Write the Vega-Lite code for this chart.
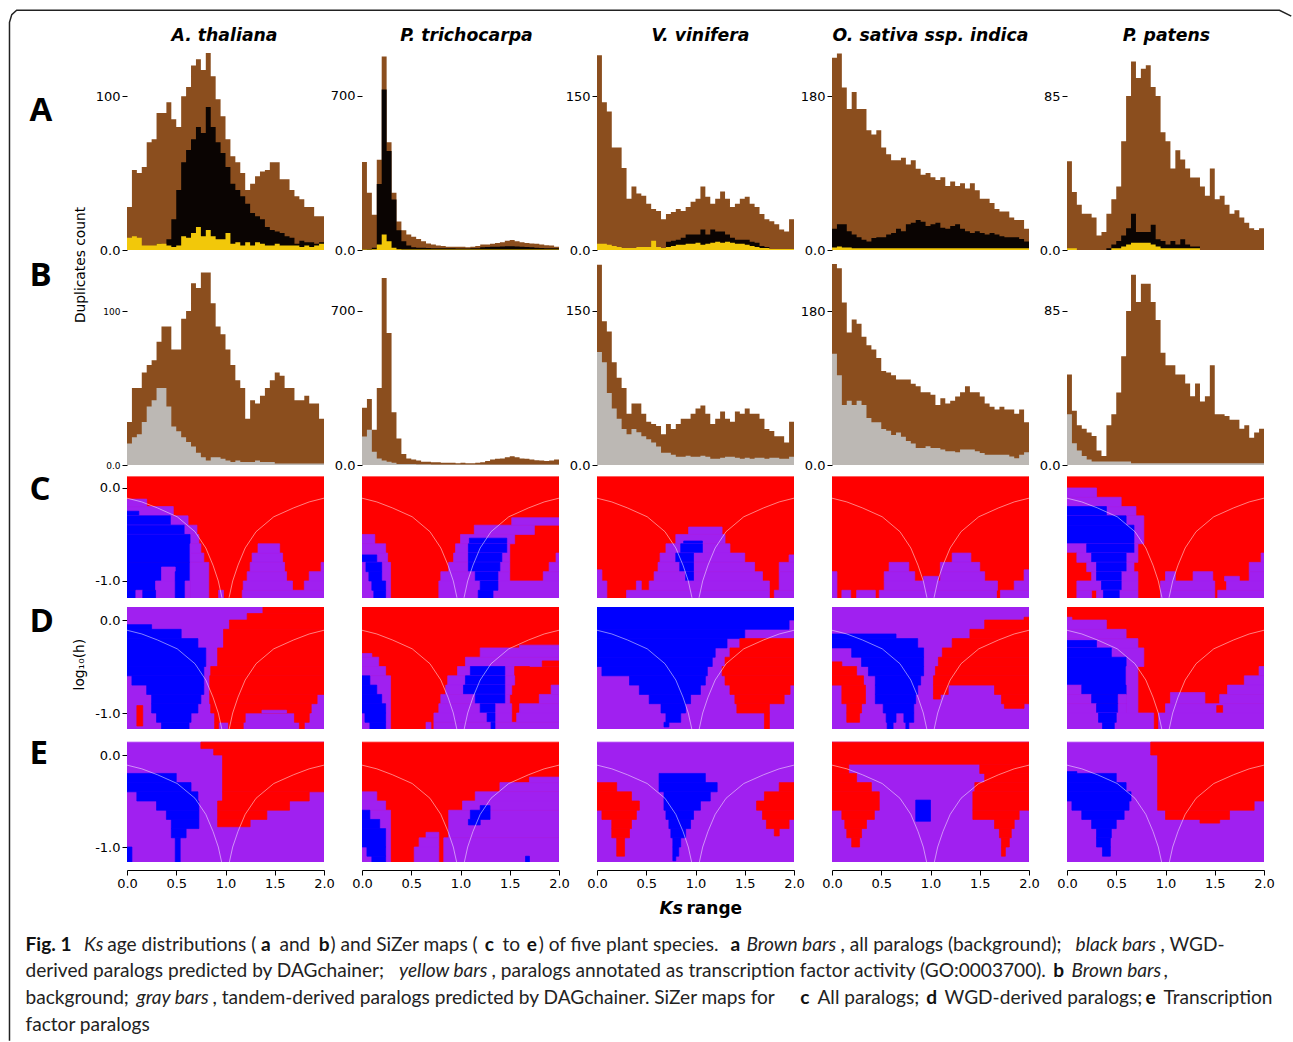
{"$schema":"https://vega.github.io/schema/vega-lite/v6.json","background":"white","autosize":{"type":"pad"},"padding":{"left":6,"top":7,"right":0,"bottom":0},
"config":{"view":{"stroke":null},"legend":{"disable":true},"range":{"category":["#a020f0","#0000ff","#ff0000"]},"scale":{"zero":false},"axis":{"labels":false,"ticks":false,"grid":false,"domain":false,"titleOpacity":0,"titleFontSize":1,"titlePadding":0,"tickColor":"#000","tickSize":5,"labelFont":"DejaVu Sans","labelFontSize":13,"labelColor":"#000","labelPadding":2,"labelFlush":false,"labelOverlap":false,"domainColor":"#000"}},
"columns":5,"spacing":{"row":9,"column":38},"bounds":"flush",
"datasets":{
"curve":[{"s":"l","x":0,"h":-0.11},{"s":"l","x":0.15,"h":-0.15},{"s":"l","x":0.31,"h":-0.215},{"s":"l","x":0.51,"h":-0.31},{"s":"l","x":0.69,"h":-0.47},{"s":"l","x":0.8,"h":-0.645},{"s":"l","x":0.873,"h":-0.83},{"s":"l","x":0.927,"h":-1},{"s":"l","x":0.964,"h":-1.18},{"s":"r","x":1.036,"h":-1.18},{"s":"r","x":1.073,"h":-1},{"s":"r","x":1.127,"h":-0.83},{"s":"r","x":1.2,"h":-0.645},{"s":"r","x":1.31,"h":-0.47},{"s":"r","x":1.49,"h":-0.31},{"s":"r","x":1.69,"h":-0.215},{"s":"r","x":1.85,"h":-0.15},{"s":"r","x":2,"h":-0.11}],
"frame":[{"i":1,"x":-1.193,"y":-514},{"i":2,"x":-1.193,"y":148},{"i":3,"x":-1.17,"y":153},{"i":4,"x":-1.12,"y":155.8},{"i":5,"x":11.7,"y":155.8},{"i":6,"x":11.82,"y":152}],
"cap":[{"x":-0.2,"y":-455.8,"t":"age distributions ("},{"x":1.548,"y":-455.8,"t":"and"},{"x":2.066,"y":-455.8,"t":") and SiZer maps ("},{"x":3.811,"y":-455.8,"t":"to"},{"x":4.18,"y":-455.8,"t":") of five plant species."},{"x":7.244,"y":-455.8,"t":", all paralogs (background);"},{"x":10.493,"y":-455.8,"t":", WGD-"},{"x":-1.03,"y":-472.7,"t":"derived paralogs predicted by DAGchainer;"},{"x":3.701,"y":-472.7,"t":", paralogs annotated as transcription factor activity (GO:0003700)."},{"x":10.523,"y":-472.7,"t":","},{"x":-1.03,"y":-490.3,"t":"background;"},{"x":0.868,"y":-490.3,"t":", tandem-derived paralogs predicted by DAGchainer. SiZer maps for"},{"x":7.01,"y":-490.3,"t":"All paralogs;"},{"x":8.3,"y":-490.3,"t":"WGD-derived paralogs;"},{"x":10.523,"y":-490.3,"t":"Transcription"},{"x":-1.03,"y":-507.8,"t":"factor paralogs"}],
"capb":[{"x":-1.03,"y":-455.8,"t":"Fig. 1"},{"x":1.361,"y":-455.8,"t":"a"},{"x":1.946,"y":-455.8,"t":"b"},{"x":3.632,"y":-455.8,"t":"c"},{"x":4.059,"y":-455.8,"t":"e"},{"x":6.127,"y":-455.8,"t":"a"},{"x":9.403,"y":-472.7,"t":"b"},{"x":6.836,"y":-490.3,"t":"c"},{"x":8.113,"y":-490.3,"t":"d"},{"x":10.34,"y":-490.3,"t":"e"}],
"capi":[{"x":-0.437,"y":-455.8,"t":"Ks"},{"x":6.289,"y":-455.8,"t":"Brown bars"},{"x":9.63,"y":-455.8,"t":"black bars"},{"x":2.762,"y":-472.7,"t":"yellow bars"},{"x":9.589,"y":-472.7,"t":"Brown bars"},{"x":0.096,"y":-490.3,"t":"gray bars"}],
"ttl":[{"x":0.99,"y":136,"t":"A. thaliana"},{"x":3.447,"y":136,"t":"P. trichocarpa"},{"x":5.822,"y":136,"t":"V. vinifera"},{"x":8.157,"y":136,"t":"O. sativa ssp. indica"},{"x":10.553,"y":136,"t":"P. patens"}],
"let":[{"x":-0.99,"y":83.8,"t":"A"},{"x":-0.99,"y":-23.4,"t":"B"},{"x":-0.99,"y":-162.3,"t":"C"},{"x":-0.99,"y":-248,"t":"D"},{"x":-0.99,"y":-334.4,"t":"E"}],
"rot":[{"x":-0.462,"y":-9.7,"t":"Duplicates count"},{"x":-0.482,"y":-269.5,"t":"log₁₀(h)"}],
"ksi":[{"x":5.406,"y":-431.8,"t":"Ks"}],
"ksb":[{"x":5.68,"y":-431.8,"t":"range"}],
"A1":[{"x":0,"b":28,"k":0,"g":8},{"x":0.05,"b":52,"k":0,"g":9},{"x":0.1,"b":50,"k":0,"g":8},{"x":0.15,"b":54,"k":0,"g":3},{"x":0.2,"b":70,"k":0,"g":3},{"x":0.25,"b":72,"k":1,"g":3},{"x":0.3,"b":89,"k":4,"g":4},{"x":0.35,"b":89,"k":3,"g":4},{"x":0.4,"b":96,"k":7,"g":3},{"x":0.45,"b":85,"k":20,"g":2},{"x":0.5,"b":80,"k":39,"g":3},{"x":0.55,"b":100,"k":57,"g":9},{"x":0.6,"b":106,"k":65,"g":8},{"x":0.65,"b":120,"k":72,"g":11},{"x":0.7,"b":124,"k":80,"g":15},{"x":0.75,"b":117,"k":76,"g":9},{"x":0.8,"b":128,"k":93,"g":13},{"x":0.85,"b":113,"k":80,"g":9},{"x":0.9,"b":98,"k":70,"g":7},{"x":0.95,"b":87,"k":63,"g":7},{"x":1,"b":72,"k":54,"g":11},{"x":1.05,"b":61,"k":43,"g":4},{"x":1.1,"b":57,"k":39,"g":5},{"x":1.15,"b":50,"k":35,"g":3},{"x":1.2,"b":39,"k":30,"g":5},{"x":1.25,"b":43,"k":24,"g":3},{"x":1.3,"b":48,"k":22,"g":5},{"x":1.35,"b":51,"k":20,"g":4},{"x":1.4,"b":52,"k":15,"g":3},{"x":1.45,"b":57,"k":13,"g":3},{"x":1.5,"b":57,"k":12,"g":4},{"x":1.55,"b":46,"k":11,"g":3},{"x":1.6,"b":46,"k":9,"g":3},{"x":1.65,"b":39,"k":8,"g":3},{"x":1.7,"b":35,"k":4,"g":3},{"x":1.75,"b":33,"k":6,"g":2},{"x":1.8,"b":28,"k":5,"g":3},{"x":1.85,"b":28,"k":5,"g":2},{"x":1.9,"b":22,"k":4,"g":3},{"x":1.95,"b":22,"k":5,"g":4},{"x":2,"b":22,"k":5,"g":4}],
"A2":[{"x":0,"b":400,"k":2,"g":2},{"x":0.05,"b":260,"k":5,"g":2},{"x":0.1,"b":160,"k":10,"g":3},{"x":0.15,"b":410,"k":300,"g":25},{"x":0.2,"b":880,"k":730,"g":70},{"x":0.25,"b":490,"k":450,"g":40},{"x":0.3,"b":260,"k":230,"g":10},{"x":0.35,"b":130,"k":90,"g":3},{"x":0.4,"b":90,"k":40,"g":2},{"x":0.45,"b":70,"k":20,"g":2},{"x":0.5,"b":60,"k":12,"g":2},{"x":0.55,"b":50,"k":10,"g":2},{"x":0.6,"b":40,"k":10,"g":2},{"x":0.65,"b":30,"k":9,"g":2},{"x":0.7,"b":25,"k":8,"g":2},{"x":0.75,"b":20,"k":8,"g":2},{"x":0.8,"b":18,"k":8,"g":2},{"x":0.85,"b":15,"k":8,"g":2},{"x":0.9,"b":15,"k":8,"g":2},{"x":0.95,"b":15,"k":7,"g":2},{"x":1,"b":15,"k":7,"g":2},{"x":1.05,"b":12,"k":7,"g":2},{"x":1.1,"b":15,"k":8,"g":2},{"x":1.15,"b":18,"k":8,"g":2},{"x":1.2,"b":25,"k":12,"g":2},{"x":1.25,"b":25,"k":14,"g":2},{"x":1.3,"b":28,"k":15,"g":2},{"x":1.35,"b":32,"k":15,"g":2},{"x":1.4,"b":35,"k":16,"g":2},{"x":1.45,"b":42,"k":17,"g":2},{"x":1.5,"b":45,"k":17,"g":2},{"x":1.55,"b":40,"k":16,"g":2},{"x":1.6,"b":35,"k":15,"g":2},{"x":1.65,"b":32,"k":14,"g":2},{"x":1.7,"b":30,"k":12,"g":2},{"x":1.75,"b":28,"k":10,"g":2},{"x":1.8,"b":25,"k":9,"g":2},{"x":1.85,"b":22,"k":8,"g":2},{"x":1.9,"b":20,"k":8,"g":2},{"x":1.95,"b":15,"k":8,"g":2},{"x":2,"b":15,"k":8,"g":2}],
"A3":[{"x":0,"b":190,"k":0,"g":6},{"x":0.05,"b":144,"k":0,"g":6},{"x":0.1,"b":135,"k":0,"g":5},{"x":0.15,"b":100,"k":0,"g":4},{"x":0.2,"b":100,"k":0,"g":3},{"x":0.25,"b":80,"k":0,"g":2},{"x":0.3,"b":50,"k":0,"g":2},{"x":0.35,"b":62,"k":0,"g":2},{"x":0.4,"b":55,"k":0,"g":3},{"x":0.45,"b":53,"k":0,"g":3},{"x":0.5,"b":45,"k":1,"g":3},{"x":0.55,"b":40,"k":1,"g":9},{"x":0.6,"b":38,"k":1,"g":3},{"x":0.65,"b":30,"k":1,"g":2},{"x":0.7,"b":35,"k":8,"g":3},{"x":0.75,"b":37,"k":9,"g":4},{"x":0.8,"b":40,"k":10,"g":5},{"x":0.85,"b":38,"k":12,"g":5},{"x":0.9,"b":42,"k":15,"g":6},{"x":0.95,"b":47,"k":15,"g":6},{"x":1,"b":50,"k":15,"g":7},{"x":1.05,"b":62,"k":20,"g":5},{"x":1.1,"b":52,"k":15,"g":6},{"x":1.15,"b":45,"k":20,"g":7},{"x":1.2,"b":50,"k":18,"g":8},{"x":1.25,"b":57,"k":18,"g":7},{"x":1.3,"b":50,"k":15,"g":8},{"x":1.35,"b":42,"k":12,"g":7},{"x":1.4,"b":45,"k":10,"g":6},{"x":1.45,"b":50,"k":10,"g":6},{"x":1.5,"b":52,"k":10,"g":5},{"x":1.55,"b":45,"k":8,"g":4},{"x":1.6,"b":42,"k":7,"g":3},{"x":1.65,"b":35,"k":4,"g":2},{"x":1.7,"b":30,"k":3,"g":2},{"x":1.75,"b":28,"k":1,"g":1},{"x":1.8,"b":25,"k":1,"g":1},{"x":1.85,"b":20,"k":1,"g":1},{"x":1.9,"b":18,"k":1,"g":1},{"x":1.95,"b":30,"k":1,"g":1},{"x":2,"b":30,"k":1,"g":1}],
"A4":[{"x":0,"b":225,"k":25,"g":3},{"x":0.05,"b":230,"k":30,"g":4},{"x":0.1,"b":190,"k":30,"g":3},{"x":0.15,"b":165,"k":22,"g":3},{"x":0.2,"b":185,"k":18,"g":2},{"x":0.25,"b":165,"k":15,"g":2},{"x":0.3,"b":165,"k":12,"g":2},{"x":0.35,"b":140,"k":10,"g":2},{"x":0.4,"b":135,"k":14,"g":2},{"x":0.45,"b":140,"k":15,"g":2},{"x":0.5,"b":120,"k":15,"g":2},{"x":0.55,"b":112,"k":18,"g":2},{"x":0.6,"b":105,"k":20,"g":2},{"x":0.65,"b":105,"k":25,"g":2},{"x":0.7,"b":108,"k":22,"g":2},{"x":0.75,"b":100,"k":30,"g":2},{"x":0.8,"b":105,"k":32,"g":2},{"x":0.85,"b":95,"k":35,"g":2},{"x":0.9,"b":88,"k":33,"g":2},{"x":0.95,"b":90,"k":28,"g":2},{"x":1,"b":85,"k":30,"g":2},{"x":1.05,"b":82,"k":32,"g":2},{"x":1.1,"b":85,"k":26,"g":2},{"x":1.15,"b":75,"k":25,"g":2},{"x":1.2,"b":80,"k":28,"g":2},{"x":1.25,"b":75,"k":30,"g":2},{"x":1.3,"b":78,"k":25,"g":2},{"x":1.35,"b":72,"k":22,"g":2},{"x":1.4,"b":78,"k":20,"g":2},{"x":1.45,"b":70,"k":22,"g":2},{"x":1.5,"b":60,"k":20,"g":2},{"x":1.55,"b":60,"k":18,"g":2},{"x":1.6,"b":55,"k":20,"g":2},{"x":1.65,"b":48,"k":18,"g":2},{"x":1.7,"b":45,"k":16,"g":2},{"x":1.75,"b":45,"k":15,"g":2},{"x":1.8,"b":38,"k":15,"g":2},{"x":1.85,"b":35,"k":15,"g":2},{"x":1.9,"b":35,"k":13,"g":2},{"x":1.95,"b":25,"k":10,"g":2},{"x":2,"b":25,"k":10,"g":2}],
"A5":[{"x":0,"b":49,"k":0,"g":1},{"x":0.05,"b":32,"k":0,"g":1},{"x":0.1,"b":25,"k":0,"g":0},{"x":0.15,"b":20,"k":0,"g":0},{"x":0.2,"b":20,"k":0,"g":0},{"x":0.25,"b":18,"k":0,"g":0},{"x":0.3,"b":8,"k":0,"g":0},{"x":0.35,"b":10,"k":0,"g":0},{"x":0.4,"b":20,"k":1,"g":0},{"x":0.45,"b":28,"k":3,"g":1},{"x":0.5,"b":35,"k":5,"g":1},{"x":0.55,"b":60,"k":8,"g":2},{"x":0.6,"b":85,"k":12,"g":3},{"x":0.65,"b":104,"k":20,"g":4},{"x":0.7,"b":95,"k":10,"g":4},{"x":0.75,"b":100,"k":10,"g":4},{"x":0.8,"b":102,"k":10,"g":4},{"x":0.85,"b":90,"k":14,"g":3},{"x":0.9,"b":85,"k":6,"g":2},{"x":0.95,"b":65,"k":5,"g":1},{"x":1,"b":60,"k":3,"g":1},{"x":1.05,"b":45,"k":5,"g":1},{"x":1.1,"b":55,"k":3,"g":1},{"x":1.15,"b":50,"k":6,"g":1},{"x":1.2,"b":45,"k":3,"g":1},{"x":1.25,"b":40,"k":2,"g":1},{"x":1.3,"b":40,"k":2,"g":1},{"x":1.35,"b":35,"k":0,"g":0},{"x":1.4,"b":30,"k":0,"g":0},{"x":1.45,"b":45,"k":0,"g":0},{"x":1.5,"b":28,"k":0,"g":0},{"x":1.55,"b":30,"k":0,"g":0},{"x":1.6,"b":25,"k":0,"g":0},{"x":1.65,"b":20,"k":0,"g":0},{"x":1.7,"b":22,"k":0,"g":0},{"x":1.75,"b":18,"k":0,"g":0},{"x":1.8,"b":15,"k":0,"g":0},{"x":1.85,"b":12,"k":0,"g":0},{"x":1.9,"b":11,"k":0,"g":0},{"x":1.95,"b":12,"k":0,"g":0},{"x":2,"b":12,"k":0,"g":0}],
"B1":[{"x":0,"b":28,"g":14},{"x":0.05,"b":50,"g":18},{"x":0.1,"b":50,"g":20},{"x":0.15,"b":60,"g":28},{"x":0.2,"b":65,"g":38},{"x":0.25,"b":68,"g":42},{"x":0.3,"b":80,"g":50},{"x":0.35,"b":90,"g":50},{"x":0.4,"b":90,"g":38},{"x":0.45,"b":75,"g":25},{"x":0.5,"b":75,"g":22},{"x":0.55,"b":95,"g":18},{"x":0.6,"b":100,"g":15},{"x":0.65,"b":118,"g":12},{"x":0.7,"b":115,"g":8},{"x":0.75,"b":125,"g":5},{"x":0.8,"b":125,"g":3},{"x":0.85,"b":105,"g":5},{"x":0.9,"b":90,"g":5},{"x":0.95,"b":85,"g":4},{"x":1,"b":75,"g":3},{"x":1.05,"b":65,"g":2},{"x":1.1,"b":55,"g":3},{"x":1.15,"b":50,"g":2},{"x":1.2,"b":30,"g":2},{"x":1.25,"b":42,"g":2},{"x":1.3,"b":40,"g":3},{"x":1.35,"b":45,"g":2},{"x":1.4,"b":50,"g":2},{"x":1.45,"b":55,"g":2},{"x":1.5,"b":60,"g":1},{"x":1.55,"b":58,"g":1},{"x":1.6,"b":50,"g":1},{"x":1.65,"b":50,"g":1},{"x":1.7,"b":42,"g":1},{"x":1.75,"b":42,"g":1},{"x":1.8,"b":45,"g":1},{"x":1.85,"b":40,"g":1},{"x":1.9,"b":40,"g":1},{"x":1.95,"b":30,"g":1},{"x":2,"b":30,"g":1}],
"B2":[{"x":0,"b":260,"g":130},{"x":0.05,"b":300,"g":160},{"x":0.1,"b":160,"g":60},{"x":0.15,"b":350,"g":30},{"x":0.2,"b":850,"g":20},{"x":0.25,"b":600,"g":15},{"x":0.3,"b":240,"g":10},{"x":0.35,"b":120,"g":5},{"x":0.4,"b":50,"g":5},{"x":0.45,"b":30,"g":4},{"x":0.5,"b":25,"g":4},{"x":0.55,"b":20,"g":3},{"x":0.6,"b":15,"g":3},{"x":0.65,"b":15,"g":3},{"x":0.7,"b":12,"g":2},{"x":0.75,"b":12,"g":2},{"x":0.8,"b":10,"g":2},{"x":0.85,"b":10,"g":2},{"x":0.9,"b":10,"g":2},{"x":0.95,"b":8,"g":2},{"x":1,"b":10,"g":2},{"x":1.05,"b":8,"g":2},{"x":1.1,"b":8,"g":2},{"x":1.15,"b":10,"g":2},{"x":1.2,"b":12,"g":2},{"x":1.25,"b":18,"g":2},{"x":1.3,"b":25,"g":2},{"x":1.35,"b":28,"g":2},{"x":1.4,"b":30,"g":2},{"x":1.45,"b":35,"g":2},{"x":1.5,"b":40,"g":2},{"x":1.55,"b":35,"g":2},{"x":1.6,"b":30,"g":2},{"x":1.65,"b":28,"g":2},{"x":1.7,"b":25,"g":2},{"x":1.75,"b":22,"g":2},{"x":1.8,"b":20,"g":2},{"x":1.85,"b":18,"g":2},{"x":1.9,"b":20,"g":2},{"x":1.95,"b":25,"g":2},{"x":2,"b":25,"g":2}],
"B3":[{"x":0,"b":195,"g":110},{"x":0.05,"b":140,"g":100},{"x":0.1,"b":130,"g":70},{"x":0.15,"b":100,"g":55},{"x":0.2,"b":85,"g":45},{"x":0.25,"b":75,"g":35},{"x":0.3,"b":50,"g":30},{"x":0.35,"b":60,"g":35},{"x":0.4,"b":60,"g":32},{"x":0.45,"b":50,"g":28},{"x":0.5,"b":42,"g":25},{"x":0.55,"b":40,"g":22},{"x":0.6,"b":38,"g":18},{"x":0.65,"b":30,"g":12},{"x":0.7,"b":40,"g":12},{"x":0.75,"b":35,"g":10},{"x":0.8,"b":40,"g":8},{"x":0.85,"b":45,"g":8},{"x":0.9,"b":45,"g":9},{"x":0.95,"b":50,"g":8},{"x":1,"b":55,"g":8},{"x":1.05,"b":58,"g":9},{"x":1.1,"b":50,"g":8},{"x":1.15,"b":40,"g":6},{"x":1.2,"b":45,"g":6},{"x":1.25,"b":52,"g":7},{"x":1.3,"b":45,"g":8},{"x":1.35,"b":42,"g":8},{"x":1.4,"b":52,"g":7},{"x":1.45,"b":50,"g":6},{"x":1.5,"b":55,"g":7},{"x":1.55,"b":50,"g":6},{"x":1.6,"b":50,"g":7},{"x":1.65,"b":45,"g":7},{"x":1.7,"b":35,"g":6},{"x":1.75,"b":33,"g":7},{"x":1.8,"b":28,"g":7},{"x":1.85,"b":28,"g":6},{"x":1.9,"b":22,"g":6},{"x":1.95,"b":42,"g":8},{"x":2,"b":42,"g":8}],
"B4":[{"x":0,"b":235,"g":130},{"x":0.05,"b":230,"g":105},{"x":0.1,"b":190,"g":70},{"x":0.15,"b":155,"g":75},{"x":0.2,"b":170,"g":70},{"x":0.25,"b":165,"g":75},{"x":0.3,"b":150,"g":70},{"x":0.35,"b":140,"g":55},{"x":0.4,"b":135,"g":50},{"x":0.45,"b":125,"g":50},{"x":0.5,"b":110,"g":42},{"x":0.55,"b":108,"g":40},{"x":0.6,"b":105,"g":35},{"x":0.65,"b":100,"g":38},{"x":0.7,"b":100,"g":33},{"x":0.75,"b":100,"g":28},{"x":0.8,"b":95,"g":25},{"x":0.85,"b":92,"g":20},{"x":0.9,"b":85,"g":20},{"x":0.95,"b":85,"g":22},{"x":1,"b":82,"g":20},{"x":1.05,"b":70,"g":20},{"x":1.1,"b":78,"g":18},{"x":1.15,"b":72,"g":16},{"x":1.2,"b":75,"g":16},{"x":1.25,"b":80,"g":15},{"x":1.3,"b":85,"g":18},{"x":1.35,"b":92,"g":18},{"x":1.4,"b":85,"g":18},{"x":1.45,"b":85,"g":16},{"x":1.5,"b":80,"g":14},{"x":1.55,"b":72,"g":12},{"x":1.6,"b":68,"g":12},{"x":1.65,"b":65,"g":12},{"x":1.7,"b":68,"g":12},{"x":1.75,"b":65,"g":12},{"x":1.8,"b":65,"g":10},{"x":1.85,"b":60,"g":8},{"x":1.9,"b":65,"g":12},{"x":1.95,"b":50,"g":15},{"x":2,"b":50,"g":15}],
"B5":[{"x":0,"b":50,"g":28},{"x":0.05,"b":30,"g":12},{"x":0.1,"b":22,"g":8},{"x":0.15,"b":20,"g":5},{"x":0.2,"b":18,"g":3},{"x":0.25,"b":16,"g":2},{"x":0.3,"b":8,"g":2},{"x":0.35,"b":5,"g":2},{"x":0.4,"b":22,"g":2},{"x":0.45,"b":28,"g":2},{"x":0.5,"b":40,"g":2},{"x":0.55,"b":60,"g":2},{"x":0.6,"b":85,"g":2},{"x":0.65,"b":105,"g":1},{"x":0.7,"b":90,"g":1},{"x":0.75,"b":100,"g":1},{"x":0.8,"b":100,"g":1},{"x":0.85,"b":90,"g":1},{"x":0.9,"b":80,"g":1},{"x":0.95,"b":62,"g":1},{"x":1,"b":55,"g":1},{"x":1.05,"b":55,"g":1},{"x":1.1,"b":50,"g":1},{"x":1.15,"b":50,"g":1},{"x":1.2,"b":45,"g":1},{"x":1.25,"b":38,"g":1},{"x":1.3,"b":45,"g":1},{"x":1.35,"b":35,"g":1},{"x":1.4,"b":38,"g":1},{"x":1.45,"b":55,"g":1},{"x":1.5,"b":28,"g":1},{"x":1.55,"b":28,"g":1},{"x":1.6,"b":27,"g":1},{"x":1.65,"b":25,"g":1},{"x":1.7,"b":25,"g":1},{"x":1.75,"b":20,"g":1},{"x":1.8,"b":22,"g":1},{"x":1.85,"b":15,"g":1},{"x":1.9,"b":18,"g":1},{"x":1.95,"b":20,"g":1},{"x":2,"b":20,"g":1}],
"C1":[{"x":0,"w":2,"y":0.12,"z":-1.2,"c":"r"},{"x":0,"w":0.2,"y":-0.12,"z":-0.2,"c":"a"},{"x":0,"w":0.47,"y":-0.2,"z":-0.3,"c":"a"},{"x":0,"w":0.12,"y":-0.25,"z":-0.3,"c":"b"},{"x":0,"w":0.62,"y":-0.3,"z":-0.4,"c":"a"},{"x":0,"w":0.44,"y":-0.3,"z":-0.4,"c":"b"},{"x":0,"w":0.71,"y":-0.4,"z":-0.5,"c":"a"},{"x":0,"w":0.58,"y":-0.4,"z":-0.5,"c":"b"},{"x":0,"w":0.73,"y":-0.5,"z":-0.6,"c":"a"},{"x":0,"w":0.64,"y":-0.5,"z":-0.8,"c":"b"},{"x":0.64,"w":0.75,"y":-0.6,"z":-0.7,"c":"a"},{"x":1.33,"w":1.55,"y":-0.6,"z":-0.7,"c":"a"},{"x":0.64,"w":0.78,"y":-0.7,"z":-0.8,"c":"a"},{"x":1.27,"w":1.58,"y":-0.7,"z":-0.8,"c":"a"},{"x":0,"w":0.64,"y":-0.8,"z":-1,"c":"b"},{"x":0.64,"w":0.83,"y":-0.8,"z":-1.2,"c":"a"},{"x":0.35,"w":0.49,"y":-0.85,"z":-1.2,"c":"a"},{"x":1.25,"w":1.6,"y":-0.8,"z":-0.9,"c":"a"},{"x":1.97,"w":2,"y":-0.8,"z":-0.9,"c":"a"},{"x":1.22,"w":1.62,"y":-0.9,"z":-1,"c":"a"},{"x":1.85,"w":2,"y":-0.9,"z":-1,"c":"a"},{"x":0,"w":0.29,"y":-1,"z":-1.1,"c":"b"},{"x":0.29,"w":0.49,"y":-1,"z":-1.2,"c":"a"},{"x":0.49,"w":0.59,"y":-0.9,"z":-1.2,"c":"b"},{"x":0.59,"w":0.64,"y":-1,"z":-1.2,"c":"a"},{"x":1.18,"w":1.68,"y":-1,"z":-1.1,"c":"a"},{"x":1.8,"w":2,"y":-1,"z":-1.1,"c":"a"},{"x":0,"w":0.09,"y":-1.1,"z":-1.2,"c":"b"},{"x":0.09,"w":0.16,"y":-1.1,"z":-1.2,"c":"a"},{"x":0.16,"w":0.29,"y":-1.1,"z":-1.2,"c":"b"},{"x":0.93,"w":0.98,"y":-1.1,"z":-1.2,"c":"a"},{"x":1.17,"w":2,"y":-1.1,"z":-1.2,"c":"a"}],
"C2":[{"x":0,"w":2,"y":0.12,"z":-1.2,"c":"r"},{"x":0,"w":0.13,"y":-0.5,"z":-0.6,"c":"a"},{"x":0,"w":0.24,"y":-0.6,"z":-0.7,"c":"a"},{"x":0,"w":0.26,"y":-0.7,"z":-0.8,"c":"a"},{"x":0,"w":0.15,"y":-0.72,"z":-0.8,"c":"b"},{"x":0,"w":0.29,"y":-0.8,"z":-1.2,"c":"a"},{"x":0.04,"w":0.2,"y":-0.8,"z":-0.9,"c":"b"},{"x":0.07,"w":0.2,"y":-0.9,"z":-1,"c":"b"},{"x":0.1,"w":0.24,"y":-1,"z":-1.1,"c":"b"},{"x":0.12,"w":0.24,"y":-1.1,"z":-1.2,"c":"b"},{"x":1.52,"w":2,"y":-0.32,"z":-0.4,"c":"a"},{"x":1.14,"w":1.75,"y":-0.4,"z":-0.5,"c":"a"},{"x":1,"w":1.55,"y":-0.5,"z":-0.6,"c":"a"},{"x":1.09,"w":1.47,"y":-0.54,"z":-0.6,"c":"b"},{"x":0.95,"w":1.5,"y":-0.6,"z":-0.7,"c":"a"},{"x":1.08,"w":1.47,"y":-0.6,"z":-0.7,"c":"b"},{"x":0.93,"w":1.5,"y":-0.7,"z":-0.8,"c":"a"},{"x":1.08,"w":1.42,"y":-0.7,"z":-0.8,"c":"b"},{"x":1.97,"w":2,"y":-0.7,"z":-0.8,"c":"a"},{"x":0.88,"w":1.5,"y":-0.8,"z":-0.9,"c":"a"},{"x":1.08,"w":1.4,"y":-0.8,"z":-0.9,"c":"b"},{"x":1.9,"w":2,"y":-0.8,"z":-0.9,"c":"a"},{"x":0.8,"w":1.5,"y":-0.9,"z":-1,"c":"a"},{"x":1.15,"w":1.38,"y":-0.9,"z":-1,"c":"b"},{"x":1.84,"w":2,"y":-0.9,"z":-1,"c":"a"},{"x":0.78,"w":2,"y":-1,"z":-1.2,"c":"a"},{"x":1.2,"w":1.38,"y":-1,"z":-1.1,"c":"b"},{"x":1.18,"w":1.33,"y":-1.1,"z":-1.2,"c":"b"}],
"C3":[{"x":0,"w":2,"y":0.12,"z":-1.2,"c":"r"},{"x":0.93,"w":1.27,"y":-0.42,"z":-0.5,"c":"a"},{"x":0.8,"w":1.3,"y":-0.5,"z":-0.6,"c":"a"},{"x":0.88,"w":1.07,"y":-0.57,"z":-0.6,"c":"b"},{"x":0.7,"w":1.35,"y":-0.6,"z":-0.7,"c":"a"},{"x":0.85,"w":1.07,"y":-0.6,"z":-0.7,"c":"b"},{"x":0.64,"w":1.5,"y":-0.7,"z":-0.8,"c":"a"},{"x":0.8,"w":0.98,"y":-0.7,"z":-0.8,"c":"b"},{"x":1.95,"w":2,"y":-0.72,"z":-0.8,"c":"a"},{"x":0.62,"w":1.6,"y":-0.8,"z":-0.9,"c":"a"},{"x":0.84,"w":0.98,"y":-0.8,"z":-0.9,"c":"b"},{"x":1.85,"w":2,"y":-0.8,"z":-0.9,"c":"a"},{"x":0,"w":0.05,"y":-0.88,"z":-1,"c":"a"},{"x":0.58,"w":1.68,"y":-0.9,"z":-1,"c":"a"},{"x":0.9,"w":0.98,"y":-0.9,"z":-1,"c":"b"},{"x":1.85,"w":2,"y":-0.9,"z":-1.1,"c":"a"},{"x":0,"w":0.1,"y":-1,"z":-1.2,"c":"a"},{"x":0.53,"w":1.75,"y":-1,"z":-1.1,"c":"a"},{"x":0.4,"w":0.45,"y":-1,"z":-1.1,"c":"a"},{"x":0.3,"w":1.75,"y":-1.1,"z":-1.2,"c":"a"},{"x":1.8,"w":2,"y":-1.1,"z":-1.2,"c":"a"}],
"C4":[{"x":0,"w":2,"y":0.12,"z":-1.2,"c":"r"},{"x":1.22,"w":1.41,"y":-0.7,"z":-0.8,"c":"a"},{"x":0.58,"w":0.78,"y":-0.8,"z":-0.9,"c":"a"},{"x":1.1,"w":1.5,"y":-0.8,"z":-0.9,"c":"a"},{"x":1.95,"w":2,"y":-0.88,"z":-1,"c":"a"},{"x":0.53,"w":0.84,"y":-0.9,"z":-1,"c":"a"},{"x":0.93,"w":1.08,"y":-0.95,"z":-1,"c":"a"},{"x":1.1,"w":1.55,"y":-0.9,"z":-1,"c":"a"},{"x":0,"w":0.05,"y":-0.9,"z":-1.2,"c":"a"},{"x":0.53,"w":1.68,"y":-1,"z":-1.1,"c":"a"},{"x":1.85,"w":2,"y":-1,"z":-1.1,"c":"a"},{"x":0.1,"w":0.19,"y":-1.1,"z":-1.2,"c":"a"},{"x":0.25,"w":0.44,"y":-1.1,"z":-1.2,"c":"a"},{"x":0.48,"w":1.67,"y":-1.1,"z":-1.2,"c":"a"},{"x":1.71,"w":2,"y":-1.1,"z":-1.2,"c":"a"}],
"C5":[{"x":0,"w":2,"y":0.12,"z":-1.2,"c":"r"},{"x":0,"w":0.3,"y":0,"z":-0.1,"c":"a"},{"x":0,"w":0.55,"y":-0.1,"z":-0.2,"c":"a"},{"x":0,"w":0.7,"y":-0.2,"z":-0.3,"c":"a"},{"x":0,"w":0.4,"y":-0.2,"z":-0.3,"c":"b"},{"x":0,"w":0.78,"y":-0.3,"z":-0.6,"c":"a"},{"x":0,"w":0.6,"y":-0.3,"z":-0.4,"c":"b"},{"x":0,"w":0.68,"y":-0.4,"z":-0.6,"c":"b"},{"x":0,"w":0.72,"y":-0.6,"z":-0.7,"c":"a"},{"x":0.2,"w":0.68,"y":-0.6,"z":-0.7,"c":"b"},{"x":0,"w":0.1,"y":-0.7,"z":-0.8,"c":"r"},{"x":0.1,"w":0.72,"y":-0.7,"z":-0.8,"c":"a"},{"x":0.25,"w":0.6,"y":-0.7,"z":-0.8,"c":"b"},{"x":0.2,"w":0.68,"y":-0.8,"z":-0.9,"c":"a"},{"x":0.3,"w":0.6,"y":-0.8,"z":-0.9,"c":"b"},{"x":0.25,"w":0.72,"y":-0.9,"z":-1,"c":"a"},{"x":0.3,"w":0.55,"y":-0.9,"z":-1,"c":"b"},{"x":0.1,"w":0.72,"y":-1,"z":-1.1,"c":"a"},{"x":0.35,"w":0.55,"y":-1,"z":-1.1,"c":"b"},{"x":0.1,"w":0.25,"y":-1.1,"z":-1.2,"c":"a"},{"x":0.3,"w":0.72,"y":-1.1,"z":-1.2,"c":"a"},{"x":0.37,"w":0.53,"y":-1.1,"z":-1.2,"c":"b"},{"x":1.97,"w":2,"y":-0.7,"z":-0.8,"c":"a"},{"x":1.85,"w":2,"y":-0.8,"z":-0.9,"c":"a"},{"x":1,"w":1.1,"y":-0.9,"z":-1,"c":"a"},{"x":1.28,"w":1.48,"y":-0.9,"z":-1,"c":"a"},{"x":1.6,"w":1.75,"y":-0.95,"z":-1,"c":"a"},{"x":1.85,"w":2,"y":-0.9,"z":-1,"c":"a"},{"x":0.95,"w":1.5,"y":-1,"z":-1.1,"c":"a"},{"x":1.62,"w":2,"y":-1,"z":-1.1,"c":"a"},{"x":0.95,"w":1.5,"y":-1.1,"z":-1.2,"c":"a"},{"x":1.53,"w":2,"y":-1.1,"z":-1.2,"c":"a"}],
"D1":[{"x":0,"w":2,"y":0.15,"z":-1.2,"c":"a"},{"x":1.38,"w":2,"y":0.15,"z":0.07,"c":"r"},{"x":1.22,"w":2,"y":0.07,"z":0,"c":"r"},{"x":1.04,"w":2,"y":0,"z":-0.1,"c":"r"},{"x":0.98,"w":2,"y":-0.1,"z":-0.3,"c":"r"},{"x":0.92,"w":2,"y":-0.3,"z":-0.5,"c":"r"},{"x":0.85,"w":2,"y":-0.5,"z":-0.6,"c":"r"},{"x":0.84,"w":2,"y":-0.6,"z":-0.8,"c":"r"},{"x":0.84,"w":1.93,"y":-0.8,"z":-0.9,"c":"r"},{"x":0.85,"w":1.87,"y":-0.9,"z":-1,"c":"r"},{"x":0.89,"w":1.2,"y":-1,"z":-1.1,"c":"r"},{"x":1.7,"w":1.85,"y":-1,"z":-1.1,"c":"r"},{"x":0.89,"w":0.93,"y":-1.1,"z":-1.2,"c":"r"},{"x":1.03,"w":1.18,"y":-1.1,"z":-1.2,"c":"r"},{"x":1.75,"w":1.8,"y":-1.1,"z":-1.2,"c":"r"},{"x":1.37,"w":1.62,"y":-0.97,"z":-1,"c":"a"},{"x":0,"w":0.25,"y":-0.05,"z":-0.1,"c":"b"},{"x":0,"w":0.55,"y":-0.1,"z":-0.2,"c":"b"},{"x":0,"w":0.72,"y":-0.2,"z":-0.3,"c":"b"},{"x":0,"w":0.8,"y":-0.3,"z":-0.5,"c":"b"},{"x":0,"w":0.78,"y":-0.5,"z":-0.6,"c":"b"},{"x":0.05,"w":0.78,"y":-0.6,"z":-0.7,"c":"b"},{"x":0.2,"w":0.78,"y":-0.7,"z":-0.8,"c":"b"},{"x":0.25,"w":0.75,"y":-0.8,"z":-0.9,"c":"b"},{"x":0.25,"w":0.72,"y":-0.9,"z":-1,"c":"b"},{"x":0.3,"w":0.65,"y":-1,"z":-1.1,"c":"b"},{"x":0.35,"w":0.63,"y":-1.1,"z":-1.2,"c":"b"},{"x":0.1,"w":0.16,"y":-0.92,"z":-1.14,"c":"r"}],
"D2":[{"x":0,"w":2,"y":0.15,"z":-1.2,"c":"r"},{"x":0,"w":0.1,"y":-0.36,"z":-0.4,"c":"a"},{"x":0,"w":0.17,"y":-0.4,"z":-0.5,"c":"a"},{"x":0,"w":0.24,"y":-0.5,"z":-0.6,"c":"a"},{"x":0,"w":0.29,"y":-0.6,"z":-1.2,"c":"a"},{"x":0,"w":0.08,"y":-0.6,"z":-0.7,"c":"b"},{"x":0,"w":0.15,"y":-0.7,"z":-0.8,"c":"b"},{"x":0,"w":0.2,"y":-0.8,"z":-0.9,"c":"b"},{"x":0,"w":0.24,"y":-0.9,"z":-1,"c":"b"},{"x":0.03,"w":0.24,"y":-1,"z":-1.1,"c":"b"},{"x":0.08,"w":0.24,"y":-1.1,"z":-1.2,"c":"b"},{"x":1.6,"w":2,"y":-0.27,"z":-0.3,"c":"a"},{"x":1.2,"w":2,"y":-0.3,"z":-0.4,"c":"a"},{"x":1.05,"w":2,"y":-0.4,"z":-0.5,"c":"a"},{"x":1.83,"w":2,"y":-0.44,"z":-0.5,"c":"r"},{"x":0.97,"w":1.55,"y":-0.5,"z":-0.6,"c":"a"},{"x":1.1,"w":1.45,"y":-0.5,"z":-0.6,"c":"b"},{"x":1.55,"w":1.7,"y":-0.5,"z":-0.6,"c":"r"},{"x":0.87,"w":1.55,"y":-0.6,"z":-0.7,"c":"a"},{"x":1.05,"w":1.45,"y":-0.6,"z":-0.7,"c":"b"},{"x":0.85,"w":1.52,"y":-0.7,"z":-0.8,"c":"a"},{"x":1.03,"w":1.45,"y":-0.7,"z":-0.8,"c":"b"},{"x":1.92,"w":2,"y":-0.7,"z":-0.8,"c":"a"},{"x":0.8,"w":1.5,"y":-0.8,"z":-0.9,"c":"a"},{"x":1.15,"w":1.45,"y":-0.8,"z":-0.9,"c":"b"},{"x":1.8,"w":2,"y":-0.8,"z":-0.9,"c":"a"},{"x":0.78,"w":1.52,"y":-0.9,"z":-1,"c":"a"},{"x":1.2,"w":1.35,"y":-0.9,"z":-1,"c":"b"},{"x":1.6,"w":2,"y":-0.9,"z":-1,"c":"a"},{"x":0.73,"w":1.52,"y":-1,"z":-1.1,"c":"a"},{"x":1.27,"w":1.35,"y":-1,"z":-1.1,"c":"b"},{"x":1.57,"w":2,"y":-1,"z":-1.1,"c":"a"},{"x":0.65,"w":0.7,"y":-1.1,"z":-1.2,"c":"a"},{"x":0.73,"w":2,"y":-1.1,"z":-1.2,"c":"a"},{"x":1.31,"w":1.35,"y":-1.1,"z":-1.2,"c":"b"}],
"D3":[{"x":0,"w":2,"y":0.15,"z":-1.2,"c":"a"},{"x":0,"w":2,"y":0.15,"z":0,"c":"b"},{"x":0,"w":1.95,"y":0,"z":-0.1,"c":"b"},{"x":0,"w":1.5,"y":-0.1,"z":-0.2,"c":"b"},{"x":0,"w":1.32,"y":-0.2,"z":-0.3,"c":"b"},{"x":0,"w":1.2,"y":-0.3,"z":-0.4,"c":"b"},{"x":0,"w":1.17,"y":-0.4,"z":-0.5,"c":"b"},{"x":0.05,"w":1.12,"y":-0.5,"z":-0.6,"c":"b"},{"x":0.33,"w":1.1,"y":-0.6,"z":-0.7,"c":"b"},{"x":0.43,"w":1.05,"y":-0.7,"z":-0.8,"c":"b"},{"x":0.53,"w":0.95,"y":-0.8,"z":-0.9,"c":"b"},{"x":0.65,"w":0.9,"y":-0.9,"z":-1,"c":"b"},{"x":0.7,"w":0.85,"y":-1,"z":-1.1,"c":"b"},{"x":0.68,"w":0.73,"y":-1.1,"z":-1.15,"c":"b"},{"x":1.45,"w":2,"y":-0.2,"z":-0.3,"c":"r"},{"x":1.35,"w":2,"y":-0.3,"z":-0.4,"c":"r"},{"x":1.3,"w":2,"y":-0.4,"z":-0.5,"c":"r"},{"x":1.27,"w":2,"y":-0.5,"z":-0.6,"c":"r"},{"x":1.3,"w":2,"y":-0.6,"z":-0.7,"c":"r"},{"x":1.35,"w":1.96,"y":-0.7,"z":-0.8,"c":"r"},{"x":1.4,"w":1.9,"y":-0.8,"z":-0.9,"c":"r"},{"x":1.42,"w":1.75,"y":-0.9,"z":-1,"c":"r"},{"x":1.7,"w":1.75,"y":-1,"z":-1.2,"c":"r"}],
"D4":[{"x":0,"w":2,"y":0.15,"z":-1.2,"c":"a"},{"x":1.95,"w":2,"y":0.03,"z":0,"c":"r"},{"x":1.55,"w":2,"y":0,"z":-0.1,"c":"r"},{"x":1.4,"w":2,"y":-0.1,"z":-0.2,"c":"r"},{"x":1.22,"w":2,"y":-0.2,"z":-0.3,"c":"r"},{"x":1.12,"w":2,"y":-0.3,"z":-0.4,"c":"r"},{"x":1.08,"w":2,"y":-0.4,"z":-0.5,"c":"r"},{"x":1.05,"w":2,"y":-0.5,"z":-0.6,"c":"r"},{"x":1.03,"w":2,"y":-0.6,"z":-0.7,"c":"r"},{"x":1.03,"w":1.18,"y":-0.7,"z":-0.8,"c":"r"},{"x":1.65,"w":2,"y":-0.7,"z":-0.8,"c":"r"},{"x":1.03,"w":1.1,"y":-0.8,"z":-0.85,"c":"r"},{"x":1.72,"w":2,"y":-0.8,"z":-0.9,"c":"r"},{"x":1.75,"w":1.95,"y":-0.9,"z":-0.95,"c":"r"},{"x":0,"w":0.1,"y":-0.45,"z":-0.5,"c":"r"},{"x":0,"w":0.25,"y":-0.5,"z":-0.6,"c":"r"},{"x":0,"w":0.32,"y":-0.6,"z":-0.7,"c":"r"},{"x":0.1,"w":0.34,"y":-0.7,"z":-0.9,"c":"r"},{"x":0.15,"w":0.3,"y":-0.9,"z":-1,"c":"r"},{"x":0.15,"w":0.28,"y":-1,"z":-1.1,"c":"r"},{"x":0,"w":0.65,"y":-0.15,"z":-0.2,"c":"b"},{"x":0,"w":0.87,"y":-0.2,"z":-0.3,"c":"b"},{"x":0.2,"w":0.93,"y":-0.3,"z":-0.4,"c":"b"},{"x":0.3,"w":0.93,"y":-0.4,"z":-0.5,"c":"b"},{"x":0.37,"w":0.93,"y":-0.5,"z":-0.6,"c":"b"},{"x":0.44,"w":0.9,"y":-0.6,"z":-0.7,"c":"b"},{"x":0.44,"w":0.87,"y":-0.7,"z":-0.8,"c":"b"},{"x":0.44,"w":0.85,"y":-0.8,"z":-0.9,"c":"b"},{"x":0.52,"w":0.83,"y":-0.9,"z":-1,"c":"b"},{"x":0.55,"w":0.65,"y":-1,"z":-1.1,"c":"b"},{"x":0.73,"w":0.83,"y":-1,"z":-1.1,"c":"b"},{"x":0.56,"w":0.62,"y":-1.1,"z":-1.2,"c":"b"},{"x":0.75,"w":0.78,"y":-1.1,"z":-1.2,"c":"b"}],
"D5":[{"x":0,"w":2,"y":0.15,"z":-1.2,"c":"r"},{"x":0,"w":0.05,"y":0.03,"z":0,"c":"a"},{"x":0,"w":0.4,"y":0,"z":-0.1,"c":"a"},{"x":0,"w":0.6,"y":-0.1,"z":-0.2,"c":"a"},{"x":0,"w":0.72,"y":-0.2,"z":-0.3,"c":"a"},{"x":0,"w":0.3,"y":-0.22,"z":-0.3,"c":"b"},{"x":0,"w":0.78,"y":-0.3,"z":-0.5,"c":"a"},{"x":0,"w":0.45,"y":-0.3,"z":-0.4,"c":"b"},{"x":0,"w":0.6,"y":-0.4,"z":-0.7,"c":"b"},{"x":0.6,"w":0.72,"y":-0.5,"z":-1,"c":"a"},{"x":0,"w":0.15,"y":-0.7,"z":-0.8,"c":"a"},{"x":0.15,"w":0.6,"y":-0.7,"z":-0.8,"c":"b"},{"x":0,"w":0.25,"y":-0.8,"z":-0.9,"c":"a"},{"x":0.25,"w":0.52,"y":-0.8,"z":-0.9,"c":"b"},{"x":0.52,"w":0.6,"y":-0.8,"z":-0.9,"c":"a"},{"x":0,"w":0.3,"y":-0.9,"z":-1,"c":"a"},{"x":0.3,"w":0.52,"y":-0.9,"z":-1,"c":"b"},{"x":0.52,"w":0.6,"y":-0.9,"z":-1,"c":"a"},{"x":0,"w":0.88,"y":-1,"z":-1.2,"c":"a"},{"x":0.32,"w":0.5,"y":-1,"z":-1.1,"c":"b"},{"x":0.36,"w":0.48,"y":-1.1,"z":-1.2,"c":"b"},{"x":1.95,"w":2,"y":-0.5,"z":-0.6,"c":"a"},{"x":1.8,"w":2,"y":-0.6,"z":-0.7,"c":"a"},{"x":1.63,"w":2,"y":-0.7,"z":-0.8,"c":"a"},{"x":1.05,"w":1.4,"y":-0.78,"z":-0.9,"c":"a"},{"x":1.55,"w":2,"y":-0.8,"z":-0.9,"c":"a"},{"x":1,"w":2,"y":-0.9,"z":-1,"c":"a"},{"x":1.52,"w":1.58,"y":-0.92,"z":-1,"c":"r"},{"x":0.93,"w":2,"y":-1,"z":-1.2,"c":"a"}],
"E1":[{"x":0,"w":2,"y":0.14,"z":-1.2,"c":"a"},{"x":0.75,"w":2,"y":0.14,"z":0.07,"c":"r"},{"x":0.88,"w":2,"y":0.07,"z":0,"c":"r"},{"x":0.97,"w":2,"y":0,"z":-0.4,"c":"r"},{"x":0.97,"w":1.85,"y":-0.4,"z":-0.5,"c":"r"},{"x":0.92,"w":1.65,"y":-0.5,"z":-0.6,"c":"r"},{"x":0.92,"w":1.42,"y":-0.6,"z":-0.7,"c":"r"},{"x":0.92,"w":1.25,"y":-0.7,"z":-0.78,"c":"r"},{"x":0,"w":0.5,"y":-0.2,"z":-0.3,"c":"b"},{"x":0,"w":0.65,"y":-0.3,"z":-0.4,"c":"b"},{"x":0.1,"w":0.72,"y":-0.4,"z":-0.5,"c":"b"},{"x":0.3,"w":0.73,"y":-0.5,"z":-0.6,"c":"b"},{"x":0.4,"w":0.73,"y":-0.6,"z":-0.7,"c":"b"},{"x":0.45,"w":0.73,"y":-0.7,"z":-0.8,"c":"b"},{"x":0.45,"w":0.6,"y":-0.8,"z":-0.9,"c":"b"},{"x":0.49,"w":0.54,"y":-0.9,"z":-1.2,"c":"b"},{"x":0,"w":0.05,"y":-1,"z":-1.2,"c":"b"}],
"E2":[{"x":0,"w":2,"y":0.14,"z":-1.2,"c":"r"},{"x":1.7,"w":2,"y":-0.24,"z":-0.3,"c":"a"},{"x":1.4,"w":2,"y":-0.3,"z":-0.4,"c":"a"},{"x":1.15,"w":2,"y":-0.4,"z":-0.5,"c":"a"},{"x":1.02,"w":2,"y":-0.5,"z":-0.6,"c":"a"},{"x":0.88,"w":2,"y":-0.6,"z":-0.9,"c":"a"},{"x":0.83,"w":2,"y":-0.9,"z":-1.2,"c":"a"},{"x":0.65,"w":0.78,"y":-0.84,"z":-0.9,"c":"a"},{"x":0.58,"w":0.78,"y":-0.9,"z":-1,"c":"a"},{"x":0.53,"w":0.78,"y":-1,"z":-1.2,"c":"a"},{"x":0,"w":0.15,"y":-0.4,"z":-0.5,"c":"a"},{"x":0,"w":0.24,"y":-0.5,"z":-0.6,"c":"a"},{"x":0,"w":0.29,"y":-0.6,"z":-1.2,"c":"a"},{"x":0,"w":0.08,"y":-0.6,"z":-0.7,"c":"b"},{"x":0,"w":0.18,"y":-0.7,"z":-0.8,"c":"b"},{"x":0,"w":0.24,"y":-0.8,"z":-1,"c":"b"},{"x":0.05,"w":0.24,"y":-1,"z":-1.1,"c":"b"},{"x":0.1,"w":0.24,"y":-1.1,"z":-1.2,"c":"b"},{"x":1.2,"w":1.3,"y":-0.55,"z":-0.6,"c":"b"},{"x":1.1,"w":1.3,"y":-0.6,"z":-0.7,"c":"b"},{"x":1.08,"w":1.2,"y":-0.7,"z":-0.76,"c":"b"},{"x":1.66,"w":1.7,"y":-1.1,"z":-1.2,"c":"b"}],
"E3":[{"x":0,"w":2,"y":0.14,"z":-1.2,"c":"a"},{"x":0.63,"w":1.1,"y":-0.2,"z":-0.3,"c":"b"},{"x":0.63,"w":1.22,"y":-0.3,"z":-0.4,"c":"b"},{"x":0.68,"w":1.15,"y":-0.4,"z":-0.5,"c":"b"},{"x":0.68,"w":1.05,"y":-0.5,"z":-0.6,"c":"b"},{"x":0.7,"w":0.98,"y":-0.6,"z":-0.7,"c":"b"},{"x":0.73,"w":0.95,"y":-0.7,"z":-0.8,"c":"b"},{"x":0.75,"w":0.9,"y":-0.8,"z":-0.9,"c":"b"},{"x":0.77,"w":0.85,"y":-0.9,"z":-1,"c":"b"},{"x":0.77,"w":0.83,"y":-1,"z":-1.1,"c":"b"},{"x":0.77,"w":0.8,"y":-1.1,"z":-1.15,"c":"b"},{"x":0,"w":0.2,"y":-0.3,"z":-0.4,"c":"r"},{"x":0,"w":0.35,"y":-0.4,"z":-0.5,"c":"r"},{"x":0,"w":0.43,"y":-0.5,"z":-0.6,"c":"r"},{"x":0.05,"w":0.4,"y":-0.6,"z":-0.7,"c":"r"},{"x":0.15,"w":0.35,"y":-0.7,"z":-0.8,"c":"r"},{"x":0.15,"w":0.33,"y":-0.8,"z":-0.9,"c":"r"},{"x":0.2,"w":0.28,"y":-0.9,"z":-1.1,"c":"r"},{"x":1.85,"w":2,"y":-0.3,"z":-0.4,"c":"r"},{"x":1.7,"w":2,"y":-0.4,"z":-0.5,"c":"r"},{"x":1.62,"w":2,"y":-0.5,"z":-0.6,"c":"r"},{"x":1.68,"w":2,"y":-0.6,"z":-0.7,"c":"r"},{"x":1.72,"w":1.95,"y":-0.7,"z":-0.8,"c":"r"},{"x":1.8,"w":1.85,"y":-0.8,"z":-0.88,"c":"r"}],
"E4":[{"x":0,"w":2,"y":0.14,"z":-1.2,"c":"a"},{"x":0,"w":2,"y":0.14,"z":-0.1,"c":"r"},{"x":0,"w":0.17,"y":-0.1,"z":-0.2,"c":"r"},{"x":1.5,"w":2,"y":-0.1,"z":-0.2,"c":"r"},{"x":0,"w":0.25,"y":-0.2,"z":-0.3,"c":"r"},{"x":1.55,"w":2,"y":-0.2,"z":-0.3,"c":"r"},{"x":0,"w":0.4,"y":-0.3,"z":-0.4,"c":"r"},{"x":1.45,"w":2,"y":-0.3,"z":-0.4,"c":"r"},{"x":0,"w":0.48,"y":-0.4,"z":-0.6,"c":"r"},{"x":1.43,"w":2,"y":-0.4,"z":-0.6,"c":"r"},{"x":0.1,"w":0.43,"y":-0.6,"z":-0.7,"c":"r"},{"x":1.43,"w":1.9,"y":-0.6,"z":-0.7,"c":"r"},{"x":0.13,"w":0.35,"y":-0.7,"z":-0.8,"c":"r"},{"x":1.65,"w":1.85,"y":-0.7,"z":-0.8,"c":"r"},{"x":0.15,"w":0.3,"y":-0.8,"z":-0.9,"c":"r"},{"x":1.7,"w":1.82,"y":-0.8,"z":-0.9,"c":"r"},{"x":0.2,"w":0.28,"y":-0.9,"z":-1,"c":"r"},{"x":1.72,"w":1.8,"y":-0.9,"z":-1,"c":"r"},{"x":1.72,"w":1.76,"y":-1,"z":-1.1,"c":"r"},{"x":0.85,"w":1,"y":-0.49,"z":-0.72,"c":"b"}],
"E5":[{"x":0,"w":2,"y":0.14,"z":-1.2,"c":"a"},{"x":0.85,"w":2,"y":0.14,"z":0,"c":"r"},{"x":0.92,"w":2,"y":0,"z":-0.5,"c":"r"},{"x":0.92,"w":1.9,"y":-0.5,"z":-0.6,"c":"r"},{"x":1,"w":1.65,"y":-0.6,"z":-0.7,"c":"r"},{"x":1.35,"w":1.55,"y":-0.7,"z":-0.74,"c":"r"},{"x":0,"w":0.1,"y":-0.18,"z":-0.2,"c":"b"},{"x":0,"w":0.5,"y":-0.2,"z":-0.3,"c":"b"},{"x":0,"w":0.6,"y":-0.3,"z":-0.4,"c":"b"},{"x":0,"w":0.65,"y":-0.4,"z":-0.5,"c":"b"},{"x":0.05,"w":0.63,"y":-0.5,"z":-0.6,"c":"b"},{"x":0.15,"w":0.58,"y":-0.6,"z":-0.7,"c":"b"},{"x":0.25,"w":0.5,"y":-0.7,"z":-0.8,"c":"b"},{"x":0.3,"w":0.45,"y":-0.8,"z":-0.9,"c":"b"},{"x":0.3,"w":0.44,"y":-0.9,"z":-1,"c":"b"},{"x":0.36,"w":0.44,"y":-1,"z":-1.1,"c":"b"}]
},
"concat":[
{"width":197,"height":200,"layer":[
{"data":{"name":"A1"},"mark":{"type":"area","interpolate":"step-after","color":"#8b4e1e"},"encoding":{"x":{"field":"x","type":"quantitative","scale":{"domain":[0,2],"nice":false}},"y":{"field":"b","type":"quantitative","scale":{"domain":[0,130],"nice":false},"axis":{"labels":true,"ticks":true,"title":null,"values":[0,100],"labelExpr":"datum.value?datum.label:'0.0'"}}}},
{"data":{"name":"A1"},"mark":{"type":"area","interpolate":"step-after","color":"#0a0402"},"encoding":{"x":{"field":"x","type":"quantitative"},"y":{"field":"k","type":"quantitative"}}},
{"data":{"name":"A1"},"mark":{"type":"area","interpolate":"step-after","color":"#f2c80a"},"encoding":{"x":{"field":"x","type":"quantitative"},"y":{"field":"g","type":"quantitative"}}},
{"data":{"name":"frame"},"mark":{"type":"line","color":"#222","strokeWidth":1.5,"clip":false},"encoding":{"x":{"field":"x","type":"quantitative"},"y":{"field":"y","type":"quantitative"},"order":{"field":"i","type":"quantitative"}}},
{"data":{"name":"cap"},"mark":{"type":"text","align":"left","baseline":"alphabetic","font":"Lato","fontSize":19.1,"color":"#222"},"encoding":{"x":{"field":"x","type":"quantitative"},"y":{"field":"y","type":"quantitative"},"text":{"field":"t","type":"nominal"}}},
{"data":{"name":"capb"},"mark":{"type":"text","align":"left","baseline":"alphabetic","font":"Lato","fontSize":19.1,"fontWeight":"bold","color":"#111"},"encoding":{"x":{"field":"x","type":"quantitative"},"y":{"field":"y","type":"quantitative"},"text":{"field":"t","type":"nominal"}}},
{"data":{"name":"capi"},"mark":{"type":"text","align":"left","baseline":"alphabetic","font":"Lato","fontSize":19.1,"fontStyle":"italic","color":"#222"},"encoding":{"x":{"field":"x","type":"quantitative"},"y":{"field":"y","type":"quantitative"},"text":{"field":"t","type":"nominal"}}},
{"data":{"name":"ttl"},"mark":{"type":"text","align":"center","baseline":"alphabetic","font":"DejaVu Sans","fontSize":17.3,"fontWeight":"bold","fontStyle":"italic","color":"#000"},"encoding":{"x":{"field":"x","type":"quantitative"},"y":{"field":"y","type":"quantitative"},"text":{"field":"t","type":"nominal"}}},
{"data":{"name":"let"},"mark":{"type":"text","align":"left","baseline":"alphabetic","font":"Open Sans","fontSize":33,"fontWeight":"bold","color":"#000"},"encoding":{"x":{"field":"x","type":"quantitative"},"y":{"field":"y","type":"quantitative"},"text":{"field":"t","type":"nominal"}}},
{"data":{"name":"rot"},"mark":{"type":"text","align":"center","baseline":"middle","angle":270,"font":"DejaVu Sans","fontSize":13.8,"color":"#000"},"encoding":{"x":{"field":"x","type":"quantitative"},"y":{"field":"y","type":"quantitative"},"text":{"field":"t","type":"nominal"}}},
{"data":{"name":"ksi"},"mark":{"type":"text","align":"left","baseline":"alphabetic","font":"DejaVu Sans","fontSize":17,"fontWeight":"bold","fontStyle":"italic","color":"#000"},"encoding":{"x":{"field":"x","type":"quantitative"},"y":{"field":"y","type":"quantitative"},"text":{"field":"t","type":"nominal"}}},
{"data":{"name":"ksb"},"mark":{"type":"text","align":"left","baseline":"alphabetic","font":"DejaVu Sans","fontSize":17,"fontWeight":"bold","color":"#000"},"encoding":{"x":{"field":"x","type":"quantitative"},"y":{"field":"y","type":"quantitative"},"text":{"field":"t","type":"nominal"}}}
]},
{"width":197,"height":200,"data":{"name":"A2"},"layer":[{"mark":{"type":"area","interpolate":"step-after","color":"#8b4e1e"},"encoding":{"x":{"field":"x","type":"quantitative","scale":{"domain":[0,2],"nice":false}},"y":{"field":"b","type":"quantitative","scale":{"domain":[0,909],"nice":false},"axis":{"labels":true,"ticks":true,"title":null,"values":[0,700],"labelExpr":"datum.value?datum.label:'0.0'"}}}},{"mark":{"type":"area","interpolate":"step-after","color":"#0a0402"},"encoding":{"x":{"field":"x","type":"quantitative"},"y":{"field":"k","type":"quantitative"}}},{"mark":{"type":"area","interpolate":"step-after","color":"#f2c80a"},"encoding":{"x":{"field":"x","type":"quantitative"},"y":{"field":"g","type":"quantitative"}}}]},
{"width":197,"height":200,"data":{"name":"A3"},"layer":[{"mark":{"type":"area","interpolate":"step-after","color":"#8b4e1e"},"encoding":{"x":{"field":"x","type":"quantitative","scale":{"domain":[0,2],"nice":false}},"y":{"field":"b","type":"quantitative","scale":{"domain":[0,195],"nice":false},"axis":{"labels":true,"ticks":true,"title":null,"values":[0,150],"labelExpr":"datum.value?datum.label:'0.0'"}}}},{"mark":{"type":"area","interpolate":"step-after","color":"#0a0402"},"encoding":{"x":{"field":"x","type":"quantitative"},"y":{"field":"k","type":"quantitative"}}},{"mark":{"type":"area","interpolate":"step-after","color":"#f2c80a"},"encoding":{"x":{"field":"x","type":"quantitative"},"y":{"field":"g","type":"quantitative"}}}]},
{"width":197,"height":200,"data":{"name":"A4"},"layer":[{"mark":{"type":"area","interpolate":"step-after","color":"#8b4e1e"},"encoding":{"x":{"field":"x","type":"quantitative","scale":{"domain":[0,2],"nice":false}},"y":{"field":"b","type":"quantitative","scale":{"domain":[0,234],"nice":false},"axis":{"labels":true,"ticks":true,"title":null,"values":[0,180],"labelExpr":"datum.value?datum.label:'0.0'"}}}},{"mark":{"type":"area","interpolate":"step-after","color":"#0a0402"},"encoding":{"x":{"field":"x","type":"quantitative"},"y":{"field":"k","type":"quantitative"}}},{"mark":{"type":"area","interpolate":"step-after","color":"#f2c80a"},"encoding":{"x":{"field":"x","type":"quantitative"},"y":{"field":"g","type":"quantitative"}}}]},
{"width":197,"height":200,"data":{"name":"A5"},"layer":[{"mark":{"type":"area","interpolate":"step-after","color":"#8b4e1e"},"encoding":{"x":{"field":"x","type":"quantitative","scale":{"domain":[0,2],"nice":false}},"y":{"field":"b","type":"quantitative","scale":{"domain":[0,110.4],"nice":false},"axis":{"labels":true,"ticks":true,"title":null,"values":[0,85],"labelExpr":"datum.value?datum.label:'0.0'"}}}},{"mark":{"type":"area","interpolate":"step-after","color":"#0a0402"},"encoding":{"x":{"field":"x","type":"quantitative"},"y":{"field":"k","type":"quantitative"}}},{"mark":{"type":"area","interpolate":"step-after","color":"#f2c80a"},"encoding":{"x":{"field":"x","type":"quantitative"},"y":{"field":"g","type":"quantitative"}}}]},
{"width":197,"height":206,"data":{"name":"B1"},"layer":[{"mark":{"type":"area","interpolate":"step-after","color":"#8b4e1e"},"encoding":{"x":{"field":"x","type":"quantitative","scale":{"domain":[0,2],"nice":false}},"y":{"field":"b","type":"quantitative","scale":{"domain":[0,133.8],"nice":false},"axis":{"labels":true,"ticks":true,"title":null,"values":[0,100],"labelFontSize":9,"labelExpr":"datum.value?datum.label:'0.0'"}}}},{"mark":{"type":"area","interpolate":"step-after","color":"#bcb8b4"},"encoding":{"x":{"field":"x","type":"quantitative"},"y":{"field":"g","type":"quantitative"}}}]},
{"width":197,"height":206,"data":{"name":"B2"},"layer":[{"mark":{"type":"area","interpolate":"step-after","color":"#8b4e1e"},"encoding":{"x":{"field":"x","type":"quantitative","scale":{"domain":[0,2],"nice":false}},"y":{"field":"b","type":"quantitative","scale":{"domain":[0,936],"nice":false},"axis":{"labels":true,"ticks":true,"title":null,"values":[0,700],"labelExpr":"datum.value?datum.label:'0.0'"}}}},{"mark":{"type":"area","interpolate":"step-after","color":"#bcb8b4"},"encoding":{"x":{"field":"x","type":"quantitative"},"y":{"field":"g","type":"quantitative"}}}]},
{"width":197,"height":206,"data":{"name":"B3"},"layer":[{"mark":{"type":"area","interpolate":"step-after","color":"#8b4e1e"},"encoding":{"x":{"field":"x","type":"quantitative","scale":{"domain":[0,2],"nice":false}},"y":{"field":"b","type":"quantitative","scale":{"domain":[0,200.6],"nice":false},"axis":{"labels":true,"ticks":true,"title":null,"values":[0,150],"labelExpr":"datum.value?datum.label:'0.0'"}}}},{"mark":{"type":"area","interpolate":"step-after","color":"#bcb8b4"},"encoding":{"x":{"field":"x","type":"quantitative"},"y":{"field":"g","type":"quantitative"}}}]},
{"width":197,"height":206,"data":{"name":"B4"},"layer":[{"mark":{"type":"area","interpolate":"step-after","color":"#8b4e1e"},"encoding":{"x":{"field":"x","type":"quantitative","scale":{"domain":[0,2],"nice":false}},"y":{"field":"b","type":"quantitative","scale":{"domain":[0,240.8],"nice":false},"axis":{"labels":true,"ticks":true,"title":null,"values":[0,180],"labelExpr":"datum.value?datum.label:'0.0'"}}}},{"mark":{"type":"area","interpolate":"step-after","color":"#bcb8b4"},"encoding":{"x":{"field":"x","type":"quantitative"},"y":{"field":"g","type":"quantitative"}}}]},
{"width":197,"height":206,"data":{"name":"B5"},"layer":[{"mark":{"type":"area","interpolate":"step-after","color":"#8b4e1e"},"encoding":{"x":{"field":"x","type":"quantitative","scale":{"domain":[0,2],"nice":false}},"y":{"field":"b","type":"quantitative","scale":{"domain":[0,113.7],"nice":false},"axis":{"labels":true,"ticks":true,"title":null,"values":[0,85],"labelExpr":"datum.value?datum.label:'0.0'"}}}},{"mark":{"type":"area","interpolate":"step-after","color":"#bcb8b4"},"encoding":{"x":{"field":"x","type":"quantitative"},"y":{"field":"g","type":"quantitative"}}}]},
{"width":197,"height":124,"layer":[{"data":{"name":"C1"},"mark":{"type":"rect","clip":true,"strokeWidth":0.7},"encoding":{"x":{"field":"x","type":"quantitative","scale":{"domain":[0,2],"nice":false}},"x2":{"field":"w"},"y":{"field":"y","type":"quantitative","scale":{"domain":[-1.183,0.15],"nice":false},"axis":{"labels":true,"ticks":true,"title":null,"values":[-1,0],"labelExpr":"datum.value<0?'-1.0':'0.0'"}},"y2":{"field":"z"},"color":{"field":"c","type":"nominal"},"stroke":{"field":"c","type":"nominal"}}},{"data":{"name":"curve"},"mark":{"type":"line","color":"#fff","opacity":0.5,"strokeWidth":1},"encoding":{"x":{"field":"x","type":"quantitative"},"y":{"field":"h","type":"quantitative"},"detail":{"field":"s"}}}]},
{"width":197,"height":124,"layer":[{"data":{"name":"C2"},"mark":{"type":"rect","clip":true,"strokeWidth":0.7},"encoding":{"x":{"field":"x","type":"quantitative","scale":{"domain":[0,2],"nice":false}},"x2":{"field":"w"},"y":{"field":"y","type":"quantitative","scale":{"domain":[-1.183,0.15],"nice":false}},"y2":{"field":"z"},"color":{"field":"c","type":"nominal"},"stroke":{"field":"c","type":"nominal"}}},{"data":{"name":"curve"},"mark":{"type":"line","color":"#fff","opacity":0.5,"strokeWidth":1},"encoding":{"x":{"field":"x","type":"quantitative"},"y":{"field":"h","type":"quantitative"},"detail":{"field":"s"}}}]},
{"width":197,"height":124,"layer":[{"data":{"name":"C3"},"mark":{"type":"rect","clip":true,"strokeWidth":0.7},"encoding":{"x":{"field":"x","type":"quantitative","scale":{"domain":[0,2],"nice":false}},"x2":{"field":"w"},"y":{"field":"y","type":"quantitative","scale":{"domain":[-1.183,0.15],"nice":false}},"y2":{"field":"z"},"color":{"field":"c","type":"nominal"},"stroke":{"field":"c","type":"nominal"}}},{"data":{"name":"curve"},"mark":{"type":"line","color":"#fff","opacity":0.5,"strokeWidth":1},"encoding":{"x":{"field":"x","type":"quantitative"},"y":{"field":"h","type":"quantitative"},"detail":{"field":"s"}}}]},
{"width":197,"height":124,"layer":[{"data":{"name":"C4"},"mark":{"type":"rect","clip":true,"strokeWidth":0.7},"encoding":{"x":{"field":"x","type":"quantitative","scale":{"domain":[0,2],"nice":false}},"x2":{"field":"w"},"y":{"field":"y","type":"quantitative","scale":{"domain":[-1.183,0.15],"nice":false}},"y2":{"field":"z"},"color":{"field":"c","type":"nominal"},"stroke":{"field":"c","type":"nominal"}}},{"data":{"name":"curve"},"mark":{"type":"line","color":"#fff","opacity":0.5,"strokeWidth":1},"encoding":{"x":{"field":"x","type":"quantitative"},"y":{"field":"h","type":"quantitative"},"detail":{"field":"s"}}}]},
{"width":197,"height":124,"layer":[{"data":{"name":"C5"},"mark":{"type":"rect","clip":true,"strokeWidth":0.7},"encoding":{"x":{"field":"x","type":"quantitative","scale":{"domain":[0,2],"nice":false}},"x2":{"field":"w"},"y":{"field":"y","type":"quantitative","scale":{"domain":[-1.183,0.15],"nice":false}},"y2":{"field":"z"},"color":{"field":"c","type":"nominal"},"stroke":{"field":"c","type":"nominal"}}},{"data":{"name":"curve"},"mark":{"type":"line","color":"#fff","opacity":0.5,"strokeWidth":1},"encoding":{"x":{"field":"x","type":"quantitative"},"y":{"field":"h","type":"quantitative"},"detail":{"field":"s"}}}]},
{"width":197,"height":122,"layer":[{"data":{"name":"D1"},"mark":{"type":"rect","clip":true,"strokeWidth":0.7},"encoding":{"x":{"field":"x","type":"quantitative","scale":{"domain":[0,2],"nice":false}},"x2":{"field":"w"},"y":{"field":"y","type":"quantitative","scale":{"domain":[-1.172,0.14],"nice":false},"axis":{"labels":true,"ticks":true,"title":null,"values":[-1,0],"labelExpr":"datum.value<0?'-1.0':'0.0'"}},"y2":{"field":"z"},"color":{"field":"c","type":"nominal"},"stroke":{"field":"c","type":"nominal"}}},{"data":{"name":"curve"},"mark":{"type":"line","color":"#fff","opacity":0.5,"strokeWidth":1},"encoding":{"x":{"field":"x","type":"quantitative"},"y":{"field":"h","type":"quantitative"},"detail":{"field":"s"}}}]},
{"width":197,"height":122,"layer":[{"data":{"name":"D2"},"mark":{"type":"rect","clip":true,"strokeWidth":0.7},"encoding":{"x":{"field":"x","type":"quantitative","scale":{"domain":[0,2],"nice":false}},"x2":{"field":"w"},"y":{"field":"y","type":"quantitative","scale":{"domain":[-1.172,0.14],"nice":false}},"y2":{"field":"z"},"color":{"field":"c","type":"nominal"},"stroke":{"field":"c","type":"nominal"}}},{"data":{"name":"curve"},"mark":{"type":"line","color":"#fff","opacity":0.5,"strokeWidth":1},"encoding":{"x":{"field":"x","type":"quantitative"},"y":{"field":"h","type":"quantitative"},"detail":{"field":"s"}}}]},
{"width":197,"height":122,"layer":[{"data":{"name":"D3"},"mark":{"type":"rect","clip":true,"strokeWidth":0.7},"encoding":{"x":{"field":"x","type":"quantitative","scale":{"domain":[0,2],"nice":false}},"x2":{"field":"w"},"y":{"field":"y","type":"quantitative","scale":{"domain":[-1.172,0.14],"nice":false}},"y2":{"field":"z"},"color":{"field":"c","type":"nominal"},"stroke":{"field":"c","type":"nominal"}}},{"data":{"name":"curve"},"mark":{"type":"line","color":"#fff","opacity":0.5,"strokeWidth":1},"encoding":{"x":{"field":"x","type":"quantitative"},"y":{"field":"h","type":"quantitative"},"detail":{"field":"s"}}}]},
{"width":197,"height":122,"layer":[{"data":{"name":"D4"},"mark":{"type":"rect","clip":true,"strokeWidth":0.7},"encoding":{"x":{"field":"x","type":"quantitative","scale":{"domain":[0,2],"nice":false}},"x2":{"field":"w"},"y":{"field":"y","type":"quantitative","scale":{"domain":[-1.172,0.14],"nice":false}},"y2":{"field":"z"},"color":{"field":"c","type":"nominal"},"stroke":{"field":"c","type":"nominal"}}},{"data":{"name":"curve"},"mark":{"type":"line","color":"#fff","opacity":0.5,"strokeWidth":1},"encoding":{"x":{"field":"x","type":"quantitative"},"y":{"field":"h","type":"quantitative"},"detail":{"field":"s"}}}]},
{"width":197,"height":122,"layer":[{"data":{"name":"D5"},"mark":{"type":"rect","clip":true,"strokeWidth":0.7},"encoding":{"x":{"field":"x","type":"quantitative","scale":{"domain":[0,2],"nice":false}},"x2":{"field":"w"},"y":{"field":"y","type":"quantitative","scale":{"domain":[-1.172,0.14],"nice":false}},"y2":{"field":"z"},"color":{"field":"c","type":"nominal"},"stroke":{"field":"c","type":"nominal"}}},{"data":{"name":"curve"},"mark":{"type":"line","color":"#fff","opacity":0.5,"strokeWidth":1},"encoding":{"x":{"field":"x","type":"quantitative"},"y":{"field":"h","type":"quantitative"},"detail":{"field":"s"}}}]},
{"width":197,"height":124,"layer":[{"data":{"name":"E1"},"mark":{"type":"rect","clip":true,"strokeWidth":0.7},"encoding":{"x":{"field":"x","type":"quantitative","scale":{"domain":[0,2],"nice":false},"axis":{"labels":true,"ticks":true,"title":null,"domain":true,"offset":8,"values":[0,0.5,1,1.5,2],"format":".1f"}},"x2":{"field":"w"},"y":{"field":"y","type":"quantitative","scale":{"domain":[-1.163,0.185],"nice":false},"axis":{"labels":true,"ticks":true,"title":null,"values":[-1,0],"labelExpr":"datum.value<0?'-1.0':'0.0'"}},"y2":{"field":"z"},"color":{"field":"c","type":"nominal"},"stroke":{"field":"c","type":"nominal"}}},{"data":{"name":"curve"},"mark":{"type":"line","color":"#fff","opacity":0.5,"strokeWidth":1},"encoding":{"x":{"field":"x","type":"quantitative"},"y":{"field":"h","type":"quantitative"},"detail":{"field":"s"}}}]},
{"width":197,"height":124,"layer":[{"data":{"name":"E2"},"mark":{"type":"rect","clip":true,"strokeWidth":0.7},"encoding":{"x":{"field":"x","type":"quantitative","scale":{"domain":[0,2],"nice":false},"axis":{"labels":true,"ticks":true,"title":null,"domain":true,"offset":8,"values":[0,0.5,1,1.5,2],"format":".1f"}},"x2":{"field":"w"},"y":{"field":"y","type":"quantitative","scale":{"domain":[-1.163,0.185],"nice":false}},"y2":{"field":"z"},"color":{"field":"c","type":"nominal"},"stroke":{"field":"c","type":"nominal"}}},{"data":{"name":"curve"},"mark":{"type":"line","color":"#fff","opacity":0.5,"strokeWidth":1},"encoding":{"x":{"field":"x","type":"quantitative"},"y":{"field":"h","type":"quantitative"},"detail":{"field":"s"}}}]},
{"width":197,"height":124,"layer":[{"data":{"name":"E3"},"mark":{"type":"rect","clip":true,"strokeWidth":0.7},"encoding":{"x":{"field":"x","type":"quantitative","scale":{"domain":[0,2],"nice":false},"axis":{"labels":true,"ticks":true,"title":null,"domain":true,"offset":8,"values":[0,0.5,1,1.5,2],"format":".1f"}},"x2":{"field":"w"},"y":{"field":"y","type":"quantitative","scale":{"domain":[-1.163,0.185],"nice":false}},"y2":{"field":"z"},"color":{"field":"c","type":"nominal"},"stroke":{"field":"c","type":"nominal"}}},{"data":{"name":"curve"},"mark":{"type":"line","color":"#fff","opacity":0.5,"strokeWidth":1},"encoding":{"x":{"field":"x","type":"quantitative"},"y":{"field":"h","type":"quantitative"},"detail":{"field":"s"}}}]},
{"width":197,"height":124,"layer":[{"data":{"name":"E4"},"mark":{"type":"rect","clip":true,"strokeWidth":0.7},"encoding":{"x":{"field":"x","type":"quantitative","scale":{"domain":[0,2],"nice":false},"axis":{"labels":true,"ticks":true,"title":null,"domain":true,"offset":8,"values":[0,0.5,1,1.5,2],"format":".1f"}},"x2":{"field":"w"},"y":{"field":"y","type":"quantitative","scale":{"domain":[-1.163,0.185],"nice":false}},"y2":{"field":"z"},"color":{"field":"c","type":"nominal"},"stroke":{"field":"c","type":"nominal"}}},{"data":{"name":"curve"},"mark":{"type":"line","color":"#fff","opacity":0.5,"strokeWidth":1},"encoding":{"x":{"field":"x","type":"quantitative"},"y":{"field":"h","type":"quantitative"},"detail":{"field":"s"}}}]},
{"width":197,"height":124,"layer":[{"data":{"name":"E5"},"mark":{"type":"rect","clip":true,"strokeWidth":0.7},"encoding":{"x":{"field":"x","type":"quantitative","scale":{"domain":[0,2],"nice":false},"axis":{"labels":true,"ticks":true,"title":null,"domain":true,"offset":8,"values":[0,0.5,1,1.5,2],"format":".1f"}},"x2":{"field":"w"},"y":{"field":"y","type":"quantitative","scale":{"domain":[-1.163,0.185],"nice":false}},"y2":{"field":"z"},"color":{"field":"c","type":"nominal"},"stroke":{"field":"c","type":"nominal"}}},{"data":{"name":"curve"},"mark":{"type":"line","color":"#fff","opacity":0.5,"strokeWidth":1},"encoding":{"x":{"field":"x","type":"quantitative"},"y":{"field":"h","type":"quantitative"},"detail":{"field":"s"}}}]}
]}
